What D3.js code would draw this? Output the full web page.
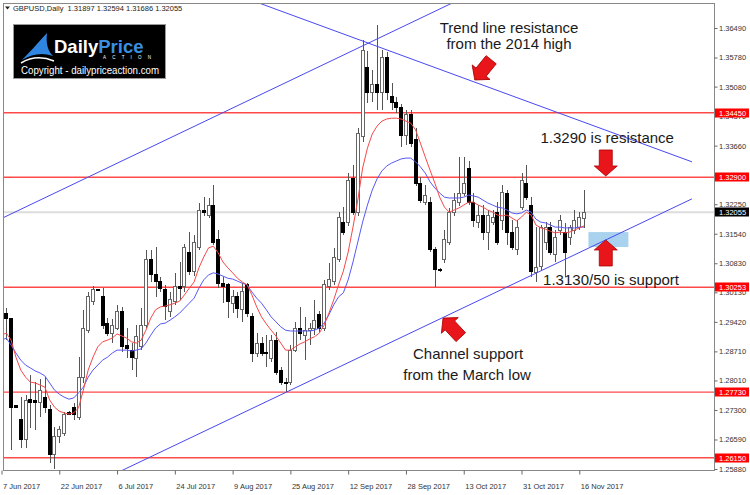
<!DOCTYPE html>
<html>
<head>
<meta charset="utf-8">
<script src="https://cdn.jsdelivr.net/npm/d3@7"></script>
<style>
  html, body { margin: 0; padding: 0; background: #fff; }
  svg { display: block; font-family: "Liberation Sans", Arial, sans-serif; }
</style>
</head>
<body>
<svg id="chart" width="750" height="495"></svg>
<script>
// GBPUSD daily candles
const open = [
  1.2927,1.2963,1.2949,1.2740,1.2706,1.2658,1.2756,1.2752,1.2749,1.2761,
  1.2730,1.2622,1.2665,1.2674,1.2723,1.2735,1.2713,1.2809,1.2922,1.2990,
  1.3019,1.3002,1.2939,1.2915,1.2925,1.2966,1.2886,1.2874,1.2853,1.2882,
  1.2934,1.3091,1.3055,1.3038,1.3019,1.2966,1.2990,1.3028,1.3026,1.3108,
  1.3062,1.3120,1.3209,1.3199,1.3223,1.3139,1.3035,1.3031,1.2987,1.3002,
  1.2971,1.3031,1.2954,1.2867,1.2889,1.2869,1.2855,1.2898,1.2826,1.2797,
  1.2797,1.2874,1.2927,1.2910,1.2922,1.2927,1.2959,1.2927,1.3028,1.3038,
  1.3093,1.3180,1.3182,1.3288,1.3204,1.3387,1.3555,1.3493,1.3512,1.3493,
  1.3579,1.3483,1.3469,1.3457,1.3391,1.3442,1.3380,1.3276,1.3230,1.3230,
  1.3115,1.3069,1.3091,1.3134,1.3204,1.3228,1.3252,1.3312,1.3230,1.3180,
  1.3199,1.3156,1.3182,1.3204,1.3187,1.3252,1.3156,1.3115,1.3218,1.3276,
  1.3223,1.3060,1.3074,1.3132,1.3168,1.3103,1.3163,1.3158,1.3146,1.3163,
  1.3170,1.31897
];
const high = [
  1.2975,1.2975,1.2951,1.2742,1.2761,1.2766,1.2814,1.2797,1.2804,1.2809,
  1.2742,1.2689,1.2691,1.2725,1.2727,1.2747,1.2857,1.2971,1.3014,1.3028,
  1.3021,1.3023,1.2951,1.2949,1.2983,1.2978,1.2927,1.2891,1.2934,1.2975,
  1.3115,1.3115,1.3122,1.3050,1.3031,1.3014,1.3060,1.3086,1.3129,1.3158,
  1.3151,1.3228,1.3242,1.3240,1.3271,1.3163,1.3050,1.3035,1.3019,1.3014,
  1.3035,1.3035,1.2963,1.2915,1.2906,1.2910,1.2910,1.2918,1.2833,1.2807,
  1.2886,1.2942,1.2978,1.2954,1.2939,1.2995,1.2968,1.3043,1.3084,1.3120,
  1.3206,1.3218,1.3300,1.3319,1.3408,1.3620,1.3594,1.3548,1.3656,1.3596,
  1.3591,1.3517,1.3483,1.3466,1.3452,1.3452,1.3408,1.3290,1.3271,1.3242,
  1.3122,1.3072,1.3163,1.3216,1.3252,1.3339,1.3339,1.3329,1.3252,1.3223,
  1.3223,1.3211,1.3211,1.3230,1.3271,1.3259,1.3187,1.3187,1.3300,1.3319,
  1.3242,1.3170,1.3175,1.3182,1.3182,1.3163,1.3199,1.3180,1.3175,1.3211,
  1.3206,1.32594
];
const low = [
  1.2910,1.2898,1.2634,1.2735,1.2638,1.2638,1.2687,1.2682,1.2713,1.2723,
  1.2602,1.2588,1.2650,1.2667,1.2718,1.2706,1.2706,1.2795,1.2915,1.2983,
  1.3016,1.2925,1.2908,1.2891,1.2922,1.2869,1.2855,1.2826,1.2809,1.2874,
  1.2927,1.3038,1.3002,1.3014,1.2946,1.2954,1.2983,1.2995,1.3014,1.3055,
  1.3052,1.3115,1.3197,1.3192,1.3127,1.3023,1.2987,1.2951,1.2963,1.2951,
  1.2942,1.2954,1.2845,1.2857,1.2860,1.2833,1.2845,1.2814,1.2790,1.2773,
  1.2790,1.2869,1.2898,1.2850,1.2886,1.2910,1.2918,1.2920,1.3019,1.3031,
  1.3086,1.3151,1.3173,1.3199,1.3197,1.3375,1.3469,1.3471,1.3452,1.3452,
  1.3476,1.3452,1.3445,1.3363,1.3367,1.3363,1.3269,1.3228,1.3223,1.3110,
  1.3026,1.3063,1.3084,1.3127,1.3197,1.3221,1.3245,1.3223,1.3170,1.3168,
  1.3139,1.3115,1.3175,1.3127,1.3163,1.3127,1.3115,1.3103,1.3211,1.3235,
  1.3050,1.3038,1.3067,1.3115,1.3103,1.3086,1.3151,1.3050,1.3127,1.3153,
  1.3163,1.31686
];
const close = [
  1.2966,1.2951,1.2737,1.2737,1.2658,1.2754,1.2749,1.2749,1.2778,1.2737,
  1.2624,1.2667,1.2682,1.2718,1.2720,1.2718,1.2809,1.2925,1.3002,1.3021,
  1.3017,1.2934,1.2915,1.2934,1.2966,1.2882,1.2879,1.2857,1.2906,1.2934,
  1.3093,1.3055,1.3038,1.3023,1.2978,1.2995,1.3026,1.3023,1.3122,1.3062,
  1.3134,1.3211,1.3204,1.3223,1.3134,1.3035,1.3026,1.2990,1.3002,1.2975,
  1.3014,1.2963,1.2867,1.2891,1.2867,1.2865,1.2898,1.2821,1.2795,1.2795,
  1.2874,1.2925,1.2915,1.2922,1.2925,1.2946,1.2927,1.3031,1.3043,1.3096,
  1.3192,1.3158,1.3283,1.3204,1.3394,1.3596,1.3493,1.3512,1.3493,1.3579,
  1.3493,1.3469,1.3457,1.3391,1.3440,1.3372,1.3276,1.3235,1.3245,1.3115,
  1.3067,1.3066,1.3139,1.3204,1.3235,1.3252,1.3276,1.3230,1.3187,1.3199,
  1.3156,1.3199,1.3194,1.3134,1.3254,1.3158,1.3122,1.3170,1.3283,1.3242,
  1.3062,1.3072,1.3170,1.3168,1.3108,1.3146,1.3187,1.3110,1.3170,1.3187,
  1.3192,1.32055
];

// moving averages as drawn on the chart (red = fast, blue = slow)
const maRed = [
  1.2910,1.2915,1.2898,1.2857,1.2826,1.2809,1.2797,1.2795,1.2790,1.2785,
  1.2754,1.2737,1.2727,1.2723,1.2720,1.2723,1.2735,1.2778,1.2826,1.2857,
  1.2882,1.2894,1.2898,1.2903,1.2913,1.2908,1.2903,1.2894,1.2891,1.2898,
  1.2922,1.2951,1.2971,1.2978,1.2980,1.2983,1.2987,1.2992,1.3007,1.3023,
  1.3038,1.3072,1.3098,1.3120,1.3124,1.3108,1.3086,1.3072,1.3060,1.3047,
  1.3038,1.3031,1.3007,1.2978,1.2954,1.2937,1.2922,1.2908,1.2891,1.2874,
  1.2874,1.2882,1.2889,1.2894,1.2901,1.2906,1.2915,1.2934,1.2963,1.2995,
  1.3031,1.3064,1.3110,1.3170,1.3235,1.3312,1.3360,1.3394,1.3413,1.3425,
  1.3430,1.3432,1.3432,1.3430,1.3425,1.3420,1.3404,1.3372,1.3339,1.3307,
  1.3276,1.3242,1.3218,1.3206,1.3211,1.3216,1.3223,1.3230,1.3230,1.3223,
  1.3218,1.3211,1.3206,1.3199,1.3197,1.3199,1.3192,1.3185,1.3194,1.3206,
  1.3199,1.3175,1.3168,1.3165,1.3160,1.3156,1.3158,1.3156,1.3158,1.3163,
  1.3168,1.3173
];
const maBlue = [
  1.2898,1.2903,1.2886,1.2867,1.2850,1.2838,1.2831,1.2824,1.2819,1.2812,
  1.2795,1.2778,1.2768,1.2761,1.2756,1.2759,1.2771,1.2785,1.2809,1.2826,
  1.2838,1.2850,1.2857,1.2867,1.2874,1.2874,1.2874,1.2872,1.2874,1.2877,
  1.2891,1.2910,1.2927,1.2937,1.2939,1.2946,1.2954,1.2963,1.2975,1.2987,
  1.2999,1.3023,1.3043,1.3055,1.3060,1.3057,1.3052,1.3047,1.3045,1.3040,
  1.3035,1.3031,1.3014,1.2999,1.2987,1.2971,1.2954,1.2942,1.2930,1.2922,
  1.2920,1.2920,1.2920,1.2920,1.2920,1.2922,1.2927,1.2939,1.2959,1.2983,
  1.3002,1.3012,1.3043,1.3086,1.3134,1.3182,1.3223,1.3259,1.3286,1.3305,
  1.3317,1.3324,1.3329,1.3334,1.3336,1.3336,1.3327,1.3315,1.3300,1.3279,
  1.3264,1.3252,1.3242,1.3240,1.3240,1.3240,1.3242,1.3247,1.3245,1.3242,
  1.3235,1.3228,1.3223,1.3218,1.3216,1.3211,1.3204,1.3202,1.3204,1.3211,
  1.3206,1.3189,1.3182,1.3180,1.3175,1.3170,1.3170,1.3168,1.3168,1.3168,
  1.3170,1.3170
];

const priceTicks = [1.3649,1.3578,1.3508,1.3437,1.3366,1.3295,1.3225,1.3154,
  1.3083,1.3013,1.2942,1.2871,1.2801,1.2730,1.2659,1.2588];
const dateTicks = ['7 Jun 2017','22 Jun 2017','6 Jul 2017','24 Jul 2017','9 Aug 2017',
  '25 Aug 2017','12 Sep 2017','28 Sep 2017','13 Oct 2017','31 Oct 2017','16 Nov 2017'];
const dateTickIdx = [0,12,24,36,48,60,72,84,96,108,120];

// horizontal levels drawn in red
const levels = [1.3445, 1.3290, 1.30253, 1.2773, 1.2615];

// drawn objects: [bar index, price]
const channelTop = [[-0.3, 1.3189], [70.3, 1.3580]];
const channelBottom = [[25.3, 1.2586], [72.4, 1.2846]];
const resistLine = [[76.1, 1.3613], [143.4, 1.3327]];
const supportZone = { i0: 121.9, i1: 130.2, p0: 1.3122, p1: 1.3158 };

const arrows = [
  { i: 98.3, p: 1.3524, angle: 129 },
  { i: 125.5, p: 1.3293, angle: 90 },
  { i: 125.5, p: 1.3139, angle: -90 },
  { i: 91.7, p: 1.2951, angle: -133 }
];
const notes = [
  { text: 'Trend line resistance', i: 105.4, p: 1.3637 },
  { text: 'from the 2014 high', i: 105.4, p: 1.3599 },
  { text: '1.3290 is resistance', i: 125.8, p: 1.3372 },
  { text: '1.3130/50 is support', i: 126.6, p: 1.3031 },
  { text: 'Channel support', i: 96.9, p: 1.2853 },
  { text: 'from the March low', i: 96.7, p: 1.2802 }
];

const svg = d3.select('#chart');
const frame = { left: 3, right: 714, top: 3, bottom: 470 };
const fmt = d3.format('.5f');

const x = d3.scaleLinear().domain([0, close.length - 1]).range([1.5, 584.1]);
const y = d3.scaleLinear().domain([1.2588, 1.3649]).range([469, 28]);

svg.append('defs').append('clipPath').attr('id', 'plot')
  .append('rect')
  .attr('x', frame.left).attr('y', frame.top)
  .attr('width', frame.right - frame.left).attr('height', frame.bottom - frame.top);

const plot = svg.append('g').attr('clip-path', 'url(#plot)');

// current price line
plot.append('line')
  .attr('x1', frame.left).attr('x2', frame.right)
  .attr('y1', y(close[close.length - 1])).attr('y2', y(close[close.length - 1]))
  .attr('stroke', '#dcdcdc').attr('stroke-width', 2);

// red levels
plot.selectAll('line.level')
  .data(levels)
  .enter()
  .append('line')
  .attr('class', 'level')
  .attr('x1', frame.left).attr('x2', frame.right)
  .attr('y1', d => y(d)).attr('y2', d => y(d))
  .attr('stroke', '#ff4a4a').attr('stroke-width', 1.4);

// support zone
plot.append('rect')
  .attr('x', x(supportZone.i0))
  .attr('y', y(supportZone.p1))
  .attr('width', x(supportZone.i1) - x(supportZone.i0))
  .attr('height', y(supportZone.p0) - y(supportZone.p1))
  .attr('fill', '#a9d2ee');

// candles
const bars = d3.range(close.length);
const cx = i => Math.round(x(i)) + 0.5;
const candles = plot.append('g').attr('shape-rendering', 'crispEdges');

candles.selectAll('line')
  .data(bars)
  .enter()
  .append('line')
  .attr('x1', cx).attr('x2', cx)
  .attr('y1', i => y(high[i])).attr('y2', i => y(low[i]))
  .attr('stroke', '#555');

candles.selectAll('rect')
  .data(bars)
  .enter()
  .append('rect')
  .attr('x', i => cx(i) - 2)
  .attr('width', 3)
  .attr('y', i => y(Math.max(open[i], close[i])))
  .attr('height', i => Math.max(1, Math.abs(y(open[i]) - y(close[i]))))
  .attr('fill', i => close[i] >= open[i] ? '#fff' : '#000')
  .attr('stroke', i => close[i] >= open[i] ? '#666' : '#000');

// moving averages
const ma = d3.line().x((d, i) => x(i)).y(d => y(d));
plot.append('path').datum(maBlue).attr('d', ma)
  .attr('fill', 'none').attr('stroke', '#5858f5').attr('stroke-width', 1);
plot.append('path').datum(maRed).attr('d', ma)
  .attr('fill', 'none').attr('stroke', '#f54848').attr('stroke-width', 1);

// trend lines, extended between two bar indexes
function extend(pts, from, to) {
  const k = (pts[1][1] - pts[0][1]) / (pts[1][0] - pts[0][0]);
  return [from, to].map(i => [x(i), y(pts[0][1] + k * (i - pts[0][0]))]);
}
[extend(channelTop, -1, 150), extend(channelBottom, 20, 143.4), extend(resistLine, 50, 143.4)]
  .forEach(seg => {
    plot.append('line')
      .attr('x1', seg[0][0]).attr('y1', seg[0][1])
      .attr('x2', seg[1][0]).attr('y2', seg[1][1])
      .attr('stroke', '#4848f2').attr('stroke-width', 1);
  });

// block arrows (tip at origin, pointing along +x before rotation)
const arrowPath = 'M0,0 L-10,-11.5 L-10,-6.5 L-26,-6.5 L-26,6.5 L-10,6.5 L-10,11.5 Z';
plot.selectAll('path.arrow')
  .data(arrows)
  .enter()
  .append('path')
  .attr('class', 'arrow')
  .attr('d', arrowPath)
  .attr('transform', d => `translate(${x(d.i)},${y(d.p)}) rotate(${d.angle})`)
  .attr('fill', '#e8151b')
  .attr('stroke', '#a80000')
  .attr('stroke-width', 0.8);

// text notes
plot.selectAll('text.note')
  .data(notes)
  .enter()
  .append('text')
  .attr('class', 'note')
  .attr('x', d => x(d.i))
  .attr('y', d => y(d.p))
  .attr('text-anchor', 'middle')
  .attr('font-size', 15)
  .attr('fill', '#1a1a1a')
  .text(d => d.text);

// frame
svg.append('rect')
  .attr('x', frame.left + 0.5).attr('y', frame.top + 0.5)
  .attr('width', frame.right - frame.left).attr('height', frame.bottom - frame.top)
  .attr('fill', 'none').attr('stroke', '#888').attr('shape-rendering', 'crispEdges');

// price axis
const yAxis = d3.axisRight(y)
  .tickValues(priceTicks)
  .tickSize(3)
  .tickFormat(fmt);

svg.append('g')
  .attr('transform', `translate(${frame.right + 0.5},0)`)
  .call(yAxis)
  .attr('font-family', '"Liberation Sans", Arial, sans-serif')
  .attr('font-size', 7.5)
  .call(g => g.select('.domain').remove())
  .call(g => g.selectAll('line').attr('stroke', '#666'))
  .call(g => g.selectAll('text').attr('x', 4.5).attr('fill', '#333'));

// level labels on the axis
const tags = levels.map(p => ({ p, bg: '#ff0000' }))
  .concat([{ p: close[close.length - 1], bg: '#000' }]);
const tag = svg.selectAll('g.tag')
  .data(tags)
  .enter()
  .append('g')
  .attr('class', 'tag')
  .attr('transform', d => `translate(${frame.right + 1},${Math.round(y(d.p))})`);
tag.append('rect')
  .attr('x', 0).attr('y', -4.5).attr('width', 34).attr('height', 9)
  .attr('fill', d => d.bg);
tag.append('text')
  .attr('x', 4).attr('y', 3)
  .attr('font-size', 7.5)
  .attr('fill', '#fff')
  .text(d => fmt(d.p));

// date axis
const xAxis = d3.axisBottom(x)
  .tickValues(dateTickIdx)
  .tickSize(4)
  .tickFormat((d, i) => dateTicks[i]);

svg.append('g')
  .attr('transform', `translate(0,${frame.bottom + 0.5})`)
  .call(xAxis)
  .attr('font-family', '"Liberation Sans", Arial, sans-serif')
  .attr('font-size', 7.5)
  .call(g => g.select('.domain').remove())
  .call(g => g.selectAll('line').attr('stroke', '#666'))
  .call(g => g.selectAll('text')
    .attr('text-anchor', 'start')
    .attr('x', 1)
    .attr('y', 18.5)
    .attr('dy', 0)
    .attr('fill', '#333'));

// header
svg.append('path').attr('d', 'M5,6.5 L10,6.5 L7.5,9.5 Z').attr('fill', '#222');
svg.append('text')
  .attr('x', 13).attr('y', 10.5)
  .attr('font-size', 7.5)
  .attr('fill', '#222')
  .attr('xml:space', 'preserve')
  .text(`GBPUSD,Daily  ${fmt(open.at(-1))} ${fmt(high.at(-1))} ${fmt(low.at(-1))} ${fmt(close.at(-1))}`);

// logo
const logo = svg.append('g');
logo.append('rect')
  .attr('x', 13.5).attr('y', 24.5).attr('width', 152).attr('height', 54)
  .attr('fill', '#000').attr('stroke', '#999');
logo.append('path')
  .attr('d', 'M22,60 C29,53 36,45 47,33 C46,42 47,50 53,56 C42,52 32,54 22,60 Z')
  .attr('fill', '#2f86e0');
logo.append('path')
  .attr('d', 'M21,63 C31,57 42,56 54,61')
  .attr('fill', 'none').attr('stroke', '#fff').attr('stroke-width', 1.5);
const brand = logo.append('text')
  .attr('x', 54).attr('y', 53)
  .attr('font-size', 18.5)
  .attr('font-weight', 'bold');
brand.append('tspan').attr('fill', '#fff').text('Daily');
brand.append('tspan').attr('fill', '#3b8fe2').text('Price');
logo.append('text')
  .attr('x', 103).attr('y', 58.5)
  .attr('font-size', 4.5)
  .attr('textLength', 48).attr('lengthAdjust', 'spacing')
  .attr('fill', '#fff')
  .text('ACTION');
logo.append('text')
  .attr('x', 21).attr('y', 74)
  .attr('font-size', 10)
  .attr('textLength', 138).attr('lengthAdjust', 'spacingAndGlyphs')
  .attr('fill', '#fff')
  .text('Copyright - dailypriceaction.com');
</script>
</body>
</html>
